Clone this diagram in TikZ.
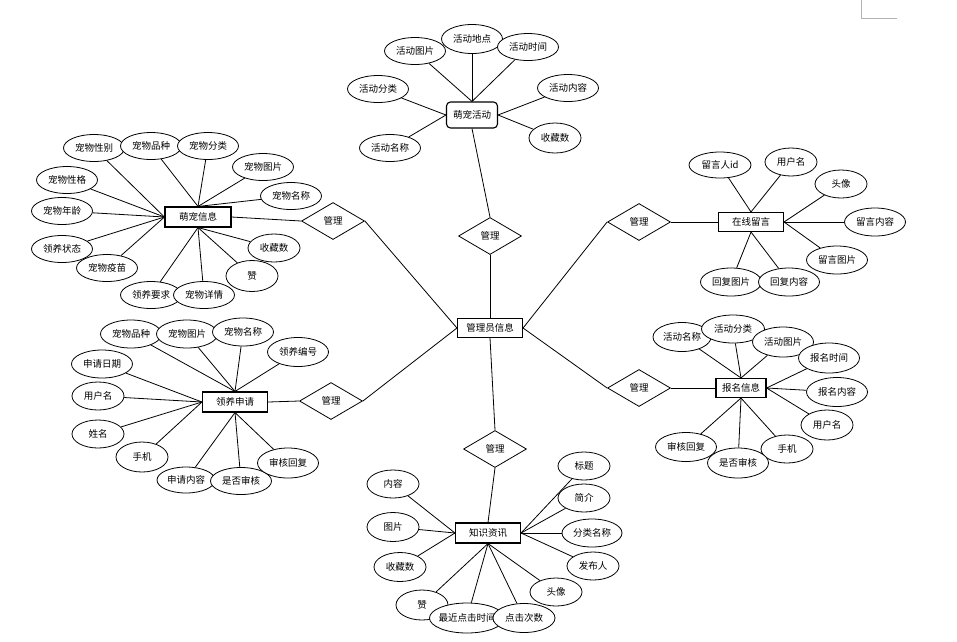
\documentclass[tikz,border=0pt]{standalone}
\usepackage{fontspec}
\setmainfont{Noto Sans CJK SC}
\usetikzlibrary{shapes.geometric}
\tikzset{
  attr/.style={ellipse, draw, fill=white, line width=0.8pt, minimum width=61pt, minimum height=27pt, inner sep=0pt, font=\fontsize{9.5}{10}\selectfont},
  shortattr/.style={minimum width=52pt, minimum height=28pt},
  ent/.style={rectangle, draw, fill=white, line width=1.1pt, minimum width=65pt, minimum height=20pt, inner sep=0pt, font=\fontsize{9.5}{10}\selectfont},
  rel/.style={diamond, draw, fill=white, line width=0.8pt, minimum width=63pt, minimum height=37pt, aspect=1.7, inner sep=0pt, font=\fontsize{9.5}{10}\selectfont},
  link/.style={line width=0.8pt}
}
\begin{document}
\begin{tikzpicture}[x=1pt, y=-1pt]
\useasboundingbox (0,0) rectangle (957,641);
\draw[gray!60, line width=0.8pt] (861,0) -- (861,18) -- (897,18);

% centre and relations
\node[ent, minimum height=19pt] (admin) at (490,328) {管理员信息};
\node[rel] (r1) at (490,236) {管理};
\node[rel] (r2) at (333,221) {管理};
\node[rel] (r3) at (639,222) {管理};
\node[rel] (r4) at (331,401) {管理};
\node[rel] (r5) at (639,388) {管理};
\node[rel] (r6) at (495,449) {管理};

% 萌宠活动
\node[ent, rounded corners=4pt, minimum width=51pt, minimum height=26pt] (hd) at (472,115) {萌宠活动};
\node[attr] (hd1) at (415,51) {活动图片};
\node[attr, minimum height=29pt] (hd2) at (472,39) {活动地点};
\node[attr] (hd3) at (528,47) {活动时间};
\node[attr] (hd4) at (378,89) {活动分类};
\node[attr] (hd5) at (568,88) {活动内容};
\node[attr] (hd6) at (390,148) {活动名称};
\node[attr, shortattr, minimum height=30pt] (hd7) at (555,138) {收藏数};

% 萌宠信息
\node[ent, minimum width=66pt] (pet) at (198,217) {萌宠信息};
\node[attr] (pet1) at (94,148) {宠物性别};
\node[attr] (pet2) at (151,146) {宠物品种};
\node[attr] (pet3) at (208,146) {宠物分类};
\node[attr] (pet4) at (263,167) {宠物图片};
\node[attr] (pet5) at (291,196) {宠物名称};
\node[attr] (pet6) at (67,180) {宠物性格};
\node[attr] (pet7) at (62,211) {宠物年龄};
\node[attr] (pet8) at (62,249) {领养状态};
\node[attr] (pet9) at (107,268) {宠物疫苗};
\node[attr, shortattr] (pet10) at (274,248) {收藏数};
\node[attr, shortattr, minimum height=31pt] (pet11) at (252,276) {赞};
\node[attr] (pet12) at (151,295) {领养要求};
\node[attr] (pet13) at (204,295) {宠物详情};

% 在线留言
\node[ent, minimum height=19pt] (msg) at (751,222) {在线留言};
\node[attr, minimum width=62pt, minimum height=26pt] (msg1) at (720,165) {留言人id};
\node[attr, shortattr] (msg2) at (791,162) {用户名};
\node[attr, shortattr] (msg3) at (841,184) {头像};
\node[attr, minimum height=28pt] (msg4) at (875,222) {留言内容};
\node[attr, minimum height=28pt] (msg5) at (837,260) {留言图片};
\node[attr, minimum height=28pt] (msg6) at (731,282) {回复图片};
\node[attr, minimum height=28pt] (msg7) at (789,282) {回复内容};

% 领养申请
\node[ent] (app) at (235,402) {领养申请};
\node[attr, minimum height=28pt] (app1) at (131,334) {宠物品种};
\node[attr, minimum height=28pt] (app2) at (187,334) {宠物图片};
\node[attr, minimum height=28pt] (app3) at (243,332) {宠物名称};
\node[attr, minimum height=29pt] (app4) at (298,352) {领养编号};
\node[attr, minimum height=28pt] (app5) at (102,364) {申请日期};
\node[attr, shortattr] (app6) at (98,396) {用户名};
\node[attr, shortattr] (app7) at (98,434) {姓名};
\node[attr, shortattr, minimum height=30pt] (app8) at (142,457) {手机};
\node[attr, minimum width=58pt, minimum height=26pt] (app9) at (186,480) {申请内容};
\node[attr] (app10) at (241,481) {是否审核};
\node[attr, minimum height=30pt] (app11) at (288,463) {审核回复};

% 报名信息
\node[ent, minimum width=50pt, minimum height=19pt] (sign) at (741,388) {报名信息};
\node[attr, minimum width=58pt, minimum height=29pt] (sign1) at (682,337) {活动名称};
\node[attr, minimum width=63pt, minimum height=28pt] (sign2) at (733,329) {活动分类};
\node[attr, minimum height=30pt] (sign3) at (783,342) {活动图片};
\node[attr, minimum height=30pt] (sign4) at (829,358) {报名时间};
\node[attr, minimum height=29pt] (sign5) at (837,392) {报名内容};
\node[attr, shortattr, minimum height=30pt] (sign6) at (827,425) {用户名};
\node[attr, shortattr] (sign7) at (787,449) {手机};
\node[attr, minimum height=29pt] (sign9) at (686,447) {审核回复};
\node[attr, minimum height=30pt] (sign8) at (738,463) {是否审核};

% 知识资讯
\node[ent] (news) at (488,533) {知识资讯};
\node[attr, shortattr] (news1) at (584,466) {标题};
\node[attr, shortattr] (news2) at (584,498) {简介};
\node[attr, minimum width=60pt, minimum height=28pt] (news3) at (592,533) {分类名称};
\node[attr, shortattr] (news4) at (593,566) {发布人};
\node[attr, shortattr] (news5) at (556,592) {头像};
\node[attr, shortattr] (news9) at (393,484) {内容};
\node[attr, shortattr, minimum height=29pt] (news10) at (393,527) {图片};
\node[attr, shortattr, minimum height=29pt] (news11) at (400,567) {收藏数};
\node[attr, shortattr, minimum height=30pt] (news8) at (422,605) {赞};
\node[attr, minimum width=75pt, minimum height=30pt, inner xsep=-3pt] (news7) at (467,618) {最近点击时间};
\node[attr, minimum width=62pt, minimum height=29pt] (news6) at (524,618) {点击次数};

% connectors
\draw[link] (hd.south) -- (r1.north);
\draw[link] (r1.south) -- (admin.north);
\draw[link] (pet.east) -- (r2.west);
\draw[link] (r2.east) -- (admin.west);
\draw[link] (msg.west) -- (r3.east);
\draw[link] (r3.west) -- (admin.east);
\draw[link] (app.east) -- (r4.west);
\draw[link] (r4.east) -- (admin.west);
\draw[link] (sign.west) -- (r5.east);
\draw[link] (r5.west) -- (admin.east);
\draw[link] (r6.north) -- (admin.south);
\draw[link] (r6.south) -- (news.north);

\foreach \i in {1,2,3} \draw[link] (hd\i) -- (hd.north);
\foreach \i in {4,6} \draw[link] (hd\i) -- (hd.west);
\foreach \i in {5,7} \draw[link] (hd\i) -- (hd.east);

\foreach \i in {2,3,4,5} \draw[link] (pet\i) -- (pet.north);
\foreach \i in {1,6,7,8,9} \draw[link] (pet\i) -- (pet.west);
\foreach \i in {10,11,12,13} \draw[link] (pet\i) -- (pet.south);

\foreach \i in {1,2} \draw[link] (msg\i) -- (msg.north);
\foreach \i in {3,4,5} \draw[link] (msg\i) -- (msg.east);
\foreach \i in {6,7} \draw[link] (msg\i) -- (msg.south);

\foreach \i in {1,2,3,4} \draw[link] (app\i) -- (app.north);
\foreach \i in {5,6,7,8} \draw[link] (app\i) -- (app.west);
\foreach \i in {9,10,11} \draw[link] (app\i) -- (app.south);

\foreach \i in {1,2,3} \draw[link] (sign\i) -- (sign.north);
\foreach \i in {4,5,6} \draw[link] (sign\i) -- (sign.east);
\foreach \i in {7,8,9} \draw[link] (sign\i) -- (sign.south);

\foreach \i in {1,2,3,4} \draw[link] (news\i) -- (news.east);
\foreach \i in {5,6,7,8} \draw[link] (news\i) -- (news.south);
\foreach \i in {9,10,11} \draw[link] (news\i) -- (news.west);
\end{tikzpicture}
\end{document}
